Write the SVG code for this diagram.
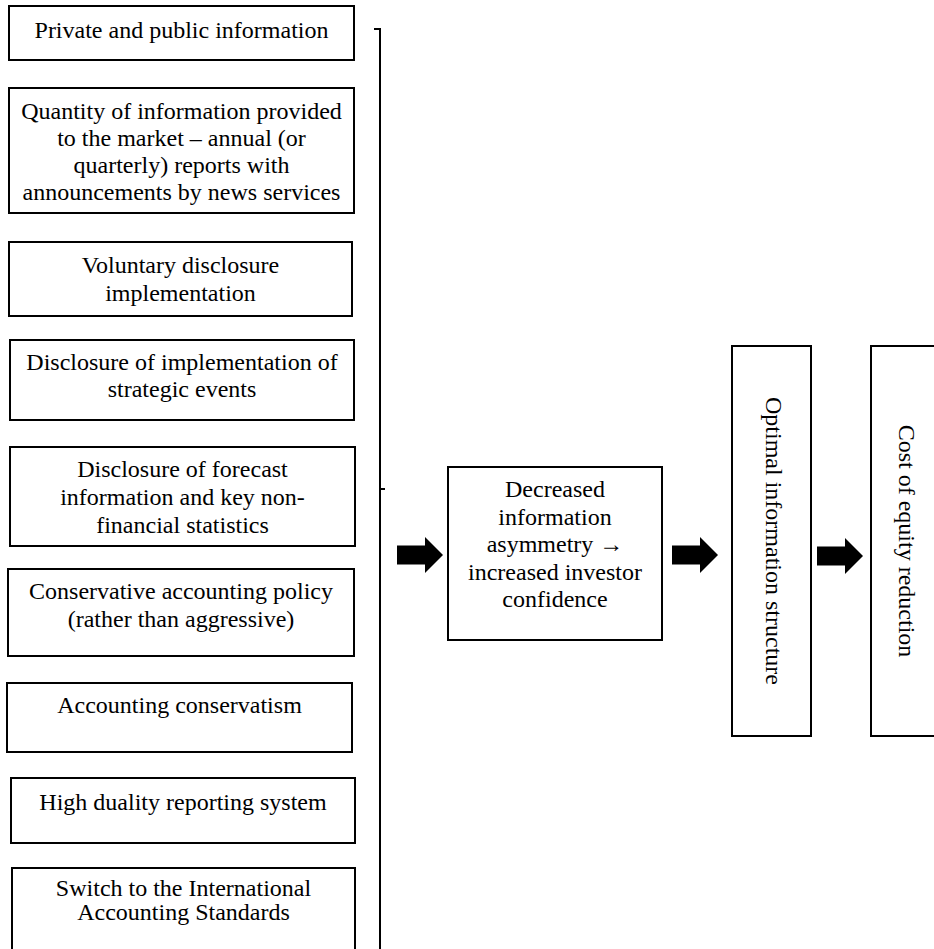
<svg xmlns="http://www.w3.org/2000/svg" width="934" height="949" viewBox="0 0 934 949">
<style>
.box{fill:#fff;stroke:#000;stroke-width:2}
.t{font-family:"Liberation Serif","Times New Roman",serif;font-size:24px;fill:#000;text-anchor:middle}
.ln{fill:none;stroke:#000;stroke-width:2}
.arr{fill:#000}
</style>
<defs>
<path id="fat" d="M0,-9.5 H28 V-18 L46,0 L28,18 V9.5 H0 Z"/>
</defs>
<g id="n1"><rect class="box" x="9" y="6" width="345" height="54"/><text class="t" x="181.5" y="38">Private and public information</text></g>
<g id="n2"><rect class="box" x="9" y="88" width="345" height="125"/><text class="t" x="181.5" y="118.5">Quantity of information provided</text><text class="t" x="181.5" y="146">to the market – annual (or</text><text class="t" x="181.5" y="173">quarterly) reports with</text><text class="t" x="181.5" y="200">announcements by news services</text></g>
<g id="n3"><rect class="box" x="9" y="242" width="343" height="74"/><text class="t" x="180.5" y="272.5">Voluntary disclosure</text><text class="t" x="180.5" y="300.5">implementation</text></g>
<g id="n4"><rect class="box" x="10" y="340" width="344" height="80"/><text class="t" x="182" y="370">Disclosure of implementation of</text><text class="t" x="182" y="397">strategic events</text></g>
<g id="n5"><rect class="box" x="10" y="447" width="345" height="99"/><text class="t" x="182.5" y="476.5">Disclosure of forecast</text><text class="t" x="182.5" y="504.5">information and key non-</text><text class="t" x="182.5" y="532.5">financial statistics</text></g>
<g id="n6"><rect class="box" x="8" y="569" width="346" height="87"/><text class="t" x="181" y="599">Conservative accounting policy</text><text class="t" x="181" y="626.5">(rather than aggressive)</text></g>
<g id="n7"><rect class="box" x="7" y="683" width="345" height="69"/><text class="t" x="179.5" y="713">Accounting conservatism</text></g>
<g id="n8"><rect class="box" x="11" y="778" width="344" height="65"/><text class="t" x="183" y="810">High duality reporting system</text></g>
<g id="n9"><rect class="box" x="12" y="868" width="343" height="90"/><text class="t" x="183.5" y="896">Switch to the International</text><text class="t" x="183.5" y="920">Accounting Standards</text></g>
<g id="n10"><rect class="box" x="448" y="467" width="214" height="173"/><text class="t" x="555" y="497">Decreased</text><text class="t" x="555" y="524.5">information</text><text class="t" x="555" y="552">asymmetry →</text><text class="t" x="555" y="579.5">increased investor</text><text class="t" x="555" y="607">confidence</text></g>
<g id="n11"><rect class="box" x="732" y="346" width="79" height="390"/><text class="t" transform="translate(766,541) rotate(90)" x="0" y="0">Optimal information structure</text></g>
<g id="n12"><rect class="box" x="871" y="346" width="75" height="390"/><text class="t" transform="translate(899,541) rotate(90)" x="0" y="0">Cost of equity reduction</text></g>
<g id="connectors">
<path class="ln" d="M374,29 H380 V960"/>
<path class="ln" d="M380,489 H385"/>
<use href="#fat" class="arr" transform="translate(397,555)"/>
<use href="#fat" class="arr" transform="translate(672,555)"/>
<use href="#fat" class="arr" transform="translate(817,556)"/>
</g>
</svg>
